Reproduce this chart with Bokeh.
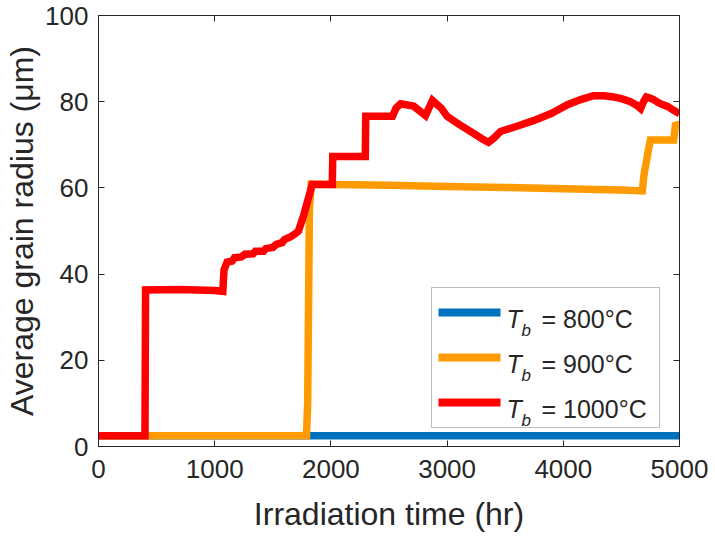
from bokeh.plotting import figure
from bokeh.models import Range1d, FixedTicker, LinearAxis, BoxAnnotation, Label
from bokeh.embed import file_html
from bokeh.resources import INLINE

# Average grain radius (um) versus irradiation time (hr) for three bulk temperatures
time_800 = [0, 5000]
radius_800 = [2.5, 2.5]

time_900 = [0, 1790, 1800, 1815, 1830, 2000, 2500, 3000, 3500, 4000, 4500, 4680,
            4690, 4700, 4715, 4730, 4750, 4950, 4965, 5000]
radius_900 = [2.5, 2.5, 10.0, 55.0, 60.9, 60.8, 60.6, 60.3, 60.1, 59.8, 59.5, 59.3,
              62.0, 64.0, 66.0, 68.5, 71.1, 71.1, 74.5, 74.8]

time_1000 = [0, 400, 405, 700, 1000, 1070, 1080, 1107, 1150, 1170, 1230, 1260, 1330,
             1350, 1420, 1440, 1500, 1530, 1580, 1600, 1650, 1690, 1721, 1764, 1796,
             1824, 1839, 2012, 2016, 2296, 2300, 2530, 2560, 2600, 2711, 2814, 2874,
             2950, 3000, 3100, 3200, 3300, 3356, 3400, 3460, 3600, 3743, 3900, 4036,
             4150, 4260, 4350, 4432, 4500, 4578, 4630, 4665, 4690, 4715, 4750, 4776,
             4830, 4897, 4950, 5000]
radius_1000 = [2.5, 2.5, 36.3, 36.4, 36.2, 36.0, 41.0, 42.8, 43.0, 43.8, 44.0, 44.6, 44.7,
               45.3, 45.3, 45.9, 46.2, 46.9, 47.3, 48.0, 48.6, 49.3, 50.0, 53.5, 56.6,
               59.3, 60.8, 60.8, 67.3, 67.3, 76.6, 76.6, 78.5, 79.5, 79.0, 76.8, 80.3,
               78.5, 76.6, 74.8, 73.1, 71.4, 70.6, 71.5, 73.1, 74.3, 75.6, 77.3, 79.3,
               80.5, 81.4, 81.4, 81.1, 80.7, 80.0, 79.2, 78.4, 80.0, 81.1, 80.8, 80.5,
               79.6, 78.9, 78.0, 77.2]

x_ticks = [0, 1000, 2000, 3000, 4000, 5000]
y_ticks = [0, 20, 40, 60, 80, 100]

temps = ["800°C", "900°C", "1000°C"]
colors = ["#0072BD", "#FF9B00", "#FF0000"]

FONT = "Liberation Sans"
INK = "#262626"
W, H = 715, 540

p = figure(width=W, height=H, output_backend="svg", toolbar_location=None,
           x_range=Range1d(0, 5000), y_range=Range1d(0, 100),
           min_border_left=98, min_border_right=36, min_border_top=15,
           min_border_bottom=94, background_fill_color="white",
           border_fill_color="white")
p.grid.visible = False
p.outline_line_color = INK
p.outline_line_width = 1

def style_axis(ax, labels=True):
    ax.axis_line_color = INK
    ax.major_tick_line_color = INK
    ax.major_tick_in = 6
    ax.major_tick_out = 0
    ax.minor_tick_line_color = None
    if labels:
        ax.major_label_text_font = FONT
        ax.major_label_text_font_size = "26px"
        ax.major_label_text_color = INK
        ax.axis_label_text_font = FONT
        ax.axis_label_text_font_style = "normal"
        ax.axis_label_text_color = INK
    else:
        # box-style axis: ticks only
        ax.major_label_text_font_size = "1px"
        ax.major_label_text_color = None
        ax.major_label_standoff = 0

p.xaxis.ticker = FixedTicker(ticks=x_ticks)
p.yaxis.ticker = FixedTicker(ticks=y_ticks)
p.xaxis.axis_label = "Irradiation time (hr)"
p.yaxis.axis_label = "Average grain radius (μm)"
style_axis(p.xaxis[0])
style_axis(p.yaxis[0])
p.xaxis.axis_label_text_font_size = "32px"
p.yaxis.axis_label_text_font_size = "32px"
p.xaxis.major_label_standoff = 13
p.xaxis.axis_label_standoff = 15
p.yaxis.major_label_standoff = 10
p.yaxis.axis_label_standoff = 2

top_ax = LinearAxis(ticker=FixedTicker(ticks=x_ticks))
right_ax = LinearAxis(ticker=FixedTicker(ticks=y_ticks))
style_axis(top_ax, labels=False)
style_axis(right_ax, labels=False)
p.add_layout(top_ax, "above")
p.add_layout(right_ax, "right")

for xs, ys, c in [(time_800, radius_800, colors[0]),
                  (time_900, radius_900, colors[1]),
                  (time_1000, radius_1000, colors[2])]:
    p.line(xs, ys, line_color=c, line_width=7.5, line_join="miter")

# legend box, line samples and labels, placed in canvas pixels (top-left origin)
box_l, box_r, box_t, box_b = 431, 659, 287, 427
p.add_layout(BoxAnnotation(left=box_l, right=box_r, top=box_t, bottom=box_b,
                           left_units="canvas", right_units="canvas",
                           top_units="canvas", bottom_units="canvas",
                           fill_color="white", fill_alpha=1.0,
                           line_color=INK, line_width=1))

row_gap = 45
for i, (t, c) in enumerate(zip(temps, colors)):
    yc = 312 + i * row_gap
    base = 318 + i * row_gap
    p.add_layout(BoxAnnotation(left=438, right=500, top=yc - 4, bottom=yc + 4,
                               left_units="canvas", right_units="canvas",
                               top_units="canvas", bottom_units="canvas",
                               fill_color=c, fill_alpha=1.0, line_color=None))
    p.add_layout(Label(x=506, y=base, x_units="canvas", y_units="canvas",
                       text="T", text_font=FONT, text_font_size="25px",
                       text_font_style="italic", text_color=INK,
                       text_baseline="alphabetic", text_align="left"))
    p.add_layout(Label(x=521, y=base + 12, x_units="canvas", y_units="canvas",
                       text="b", text_font=FONT, text_font_size="17px",
                       text_font_style="italic", text_color=INK,
                       text_baseline="alphabetic", text_align="left"))
    p.add_layout(Label(x=541, y=base, x_units="canvas", y_units="canvas",
                       text="= " + t, text_font=FONT, text_font_size="25px",
                       text_color=INK, text_baseline="alphabetic", text_align="left"))

open("out.html", "w").write(file_html(p, INLINE))
